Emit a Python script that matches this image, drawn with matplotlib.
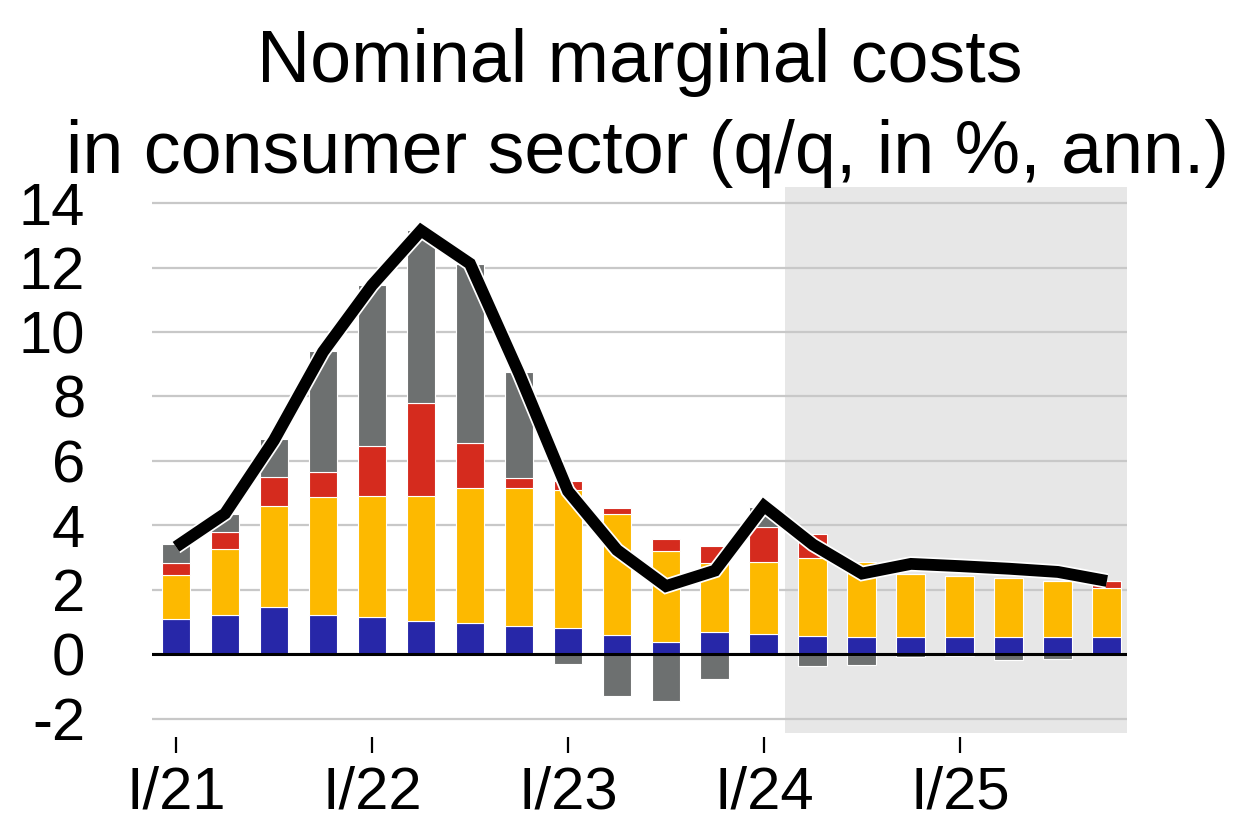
import numpy as np
import matplotlib
matplotlib.use('Agg')
import matplotlib.pyplot as plt
import matplotlib.patheffects as pe

plt.rcParams['font.family'] = ['Liberation Sans', 'DejaVu Sans']

# quarters I/21 .. IV/25
quarters = ['I/21', 'II/21', 'III/21', 'IV/21', 'I/22', 'II/22', 'III/22', 'IV/22',
            'I/23', 'II/23', 'III/23', 'IV/23', 'I/24', 'II/24', 'III/24', 'IV/24',
            'I/25', 'II/25', 'III/25', 'IV/25']

# contributions, stacked in this order (blue, yellow, red, grey)
blue = [1.09, 1.22, 1.45, 1.22, 1.16, 1.03, 0.97, 0.87, 0.80, 0.58,
        0.37, 0.67, 0.62, 0.57, 0.54, 0.54, 0.54, 0.54, 0.54, 0.54]
yellow = [1.35, 2.04, 3.14, 3.65, 3.74, 3.87, 4.19, 4.29, 4.30, 3.78,
          2.83, 2.16, 2.23, 2.42, 2.33, 1.96, 1.88, 1.81, 1.72, 1.51]
red = [0.38, 0.54, 0.92, 0.79, 1.57, 2.90, 1.39, 0.32, 0.27, 0.17,
       0.38, 0.52, 1.09, 0.73, -0.04, 0.0, 0.0, 0.0, 0.0, 0.22]
grey = [0.61, 0.56, 1.18, 3.74, 4.98, 5.35, 5.57, 3.28, -0.31, -1.30,
        -1.47, -0.76, 0.63, -0.38, -0.30, -0.10, -0.05, -0.17, -0.14, 0.0]
total = [3.33, 4.36, 6.64, 9.38, 11.45, 13.15, 12.12, 8.72, 5.06, 3.23,
         2.11, 2.59, 4.60, 3.40, 2.50, 2.80, 2.73, 2.65, 2.55, 2.27]

xticks_lab = ['I/21', 'I/22', 'I/23', 'I/24', 'I/25']
forecast_start = 13  # II/24

colors = ['#2727A8', '#FDB900', '#D52B1E', '#6D7070']

fig = plt.figure(figsize=(12.44, 8.18), dpi=100)
ax = fig.add_axes([152/1244, 1-733/818, (1127-152)/1244, (733-187)/818])

x = np.arange(len(quarters))
ax.axvspan(forecast_start - 0.57, 19.41, color='#E7E7E7', lw=0, zorder=0)

pos = np.zeros(len(x))
neg = np.zeros(len(x))
for vals, c in zip([blue, yellow, red, grey], colors):
    v = np.array(vals)
    bottom = np.where(v >= 0, pos, neg)
    ax.bar(x, v, width=0.59, bottom=bottom, color=c, edgecolor='white', linewidth=0.8, zorder=2)
    pos = pos + np.where(v > 0, v, 0)
    neg = neg + np.where(v < 0, v, 0)

ax.axhline(0, color='black', lw=2.2, zorder=3)
ax.plot(x, total, color='black', lw=8.5, solid_joinstyle='miter', solid_capstyle='butt', zorder=4,
        path_effects=[pe.Stroke(linewidth=11, foreground='white'), pe.Normal()])

ax.set_xlim(-0.49, 19.41)
ax.set_ylim(-2.45, 14.5)
ax.set_yticks(np.arange(-2, 15, 2))
ax.set_yticklabels([str(v) for v in range(-2, 15, 2)])
ax.yaxis.grid(True, color='#C8C8C8', lw=1.6, zorder=1)
ax.set_axisbelow(True)

ax.set_xticks([quarters.index(q) for q in xticks_lab])
ax.set_xticklabels(xticks_lab)

for s in ['top', 'right', 'left', 'bottom']:
    ax.spines[s].set_visible(False)
ax.spines['bottom'].set_position(('outward', 3))

ax.tick_params(axis='y', length=0, pad=48, labelsize=43)
ax.tick_params(axis='x', length=11.5, width=1.6, pad=9, labelsize=43, direction='out')

fig.text(639.5/1244, 1-82/818, 'Nominal marginal costs',
         ha='center', va='baseline', fontsize=53)
fig.text(647/1244, 1-173/818, 'in consumer sector (q/q, in %, ann.)',
         ha='center', va='baseline', fontsize=53)

fig.savefig('out.png', dpi=100)
